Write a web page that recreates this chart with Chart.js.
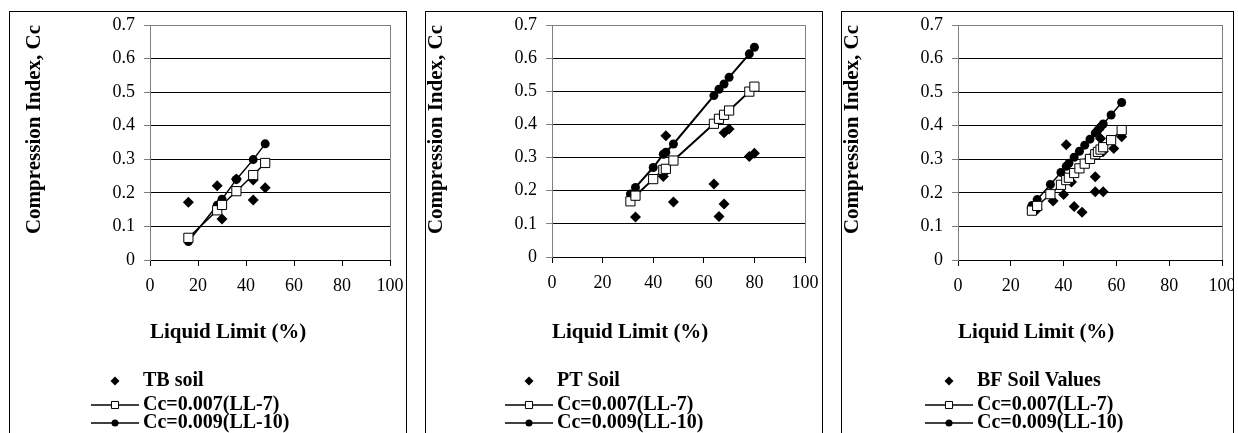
<!DOCTYPE html>
<html>
<head>
<meta charset="utf-8">
<script src="https://cdn.jsdelivr.net/npm/chart.js@4.4.1/dist/chart.umd.min.js"></script>
<style>
    html, body { margin: 0; padding: 0; background: #fff; }
    body { width: 1238px; height: 433px; position: relative; overflow: hidden; }
    .panel { position: absolute; top: 11px; height: 440px; border: 1px solid #000; background: #fff; }
    .panel canvas { display: block; }
</style>
</head>
<body>
<div class="panel" style="left:9px;width:396px"><canvas id="chartTB" width="396" height="421"></canvas></div>
<div class="panel" style="left:425px;width:396px"><canvas id="chartPT" width="396" height="421"></canvas></div>
<div class="panel" style="left:841px;width:391px"><canvas id="chartBF" width="391" height="421"></canvas></div>
<script>
// liquid limit (%) and compression index values
var xTicks = [0, 20, 40, 60, 80, 100];
var yTicks = [0, 0.1, 0.2, 0.3, 0.4, 0.5, 0.6, 0.7];

// TB soil
var tbSoilLL = [16, 28, 30, 36, 43, 43, 48];
var tbSoilCc = [0.172, 0.221, 0.122, 0.241, 0.238, 0.179, 0.215];
var tbLineLL = [16, 28, 30, 36, 43, 48];
var tbCc7 = [0.066, 0.148, 0.164, 0.205, 0.253, 0.289];
var tbCc10 = [0.055, 0.163, 0.181, 0.240, 0.299, 0.346];

// PT soil
var ptSoilLL = [33, 44, 45, 48, 64, 66, 68, 68, 70, 78, 80];
var ptSoilCc = [0.121, 0.243, 0.366, 0.166, 0.220, 0.122, 0.160, 0.375, 0.386, 0.303, 0.313];
var ptLineLL = [31, 33, 40, 44, 45, 48, 64, 66, 68, 70, 78, 80];
var ptCc7 = [0.168, 0.185, 0.235, 0.263, 0.266, 0.291, 0.402, 0.417, 0.429, 0.442, 0.499, 0.514];
var ptCc10 = [0.190, 0.210, 0.270, 0.310, 0.316, 0.341, 0.487, 0.506, 0.522, 0.542, 0.613, 0.633];

// BF soil
var bfSoilLL = [28, 30, 36, 40, 41, 43, 44, 47, 49, 51, 52, 52, 54, 55, 55, 59, 62];
var bfSoilCc = [0.155, 0.151, 0.176, 0.195, 0.343, 0.232, 0.159, 0.142, 0.295, 0.31, 0.248, 0.203, 0.362, 0.203, 0.323, 0.332, 0.367];
var bfLineLL = [28, 30, 35, 39, 41, 42, 44, 46, 48, 50, 52, 53, 54, 55, 58, 62];
var bfCc7 = [0.147, 0.161, 0.196, 0.224, 0.238, 0.245, 0.259, 0.273, 0.287, 0.301, 0.315, 0.322, 0.329, 0.336, 0.357, 0.387];
var bfCc10 = [0.162, 0.180, 0.225, 0.261, 0.279, 0.288, 0.306, 0.324, 0.342, 0.360, 0.378, 0.387, 0.396, 0.405, 0.432, 0.469];

var FONT = "'Liberation Serif', 'Times New Roman', serif";

function toPoints(xs, ys) {
    return xs.map(function (x, i) { return { x: x, y: ys[i] }; });
}

// Excel style legend: marker with a short line through it, one row per series
var panelLegend = {
    id: 'panelLegend',
    afterDraw: function (chart, args, opts) {
        var ctx = chart.ctx;
        var textX = opts.textX;
        ctx.save();
        ctx.font = 'bold 20px ' + FONT;
        ctx.textBaseline = 'middle';
        chart.data.datasets.forEach(function (ds, i) {
            var y = opts.rows[i];
            if (ds.showLine) {
                ctx.strokeStyle = '#000';
                ctx.lineWidth = 1.5;
                ctx.beginPath();
                ctx.moveTo(textX - 52, y);
                ctx.lineTo(textX - 4, y);
                ctx.stroke();
            }
            ctx.fillStyle = ds.pointBackgroundColor;
            ctx.strokeStyle = '#000';
            ctx.lineWidth = 1;
            Chart.helpers.drawPoint(ctx, {
                pointStyle: ds.pointStyle,
                radius: opts.radius[i],
                borderWidth: ds.pointBorderWidth,
                rotation: 0
            }, textX - 28, y);
            ctx.fillStyle = '#000';
            ctx.fillText(ds.label, textX, y);
        });
        ctx.restore();
    }
};

function buildChart(canvasId, soilLabel, area, soilLL, soilCc, lineLL, cc7, cc10) {
    var canvas = document.getElementById(canvasId);
    var W = canvas.width, H = canvas.height;

    return new Chart(canvas, {
        type: 'scatter',
        data: {
            datasets: [{
                label: soilLabel,
                data: toPoints(soilLL, soilCc),
                pointStyle: 'rectRot',
                pointRadius: 5.5,
                pointBackgroundColor: '#000',
                pointBorderColor: '#000',
                pointBorderWidth: 0,
                showLine: false,
                order: 3
            }, {
                label: 'Cc=0.007(LL-7)',
                data: toPoints(lineLL, cc7),
                pointStyle: 'rect',
                pointRadius: 6.5,
                pointBackgroundColor: '#fff',
                pointBorderColor: '#000',
                pointBorderWidth: 1,
                showLine: true,
                borderColor: '#000',
                borderWidth: area.lineWidth,
                order: 1
            }, {
                label: 'Cc=0.009(LL-10)',
                data: toPoints(lineLL, cc10),
                pointStyle: 'circle',
                pointRadius: 4.5,
                pointBackgroundColor: '#000',
                pointBorderColor: '#000',
                pointBorderWidth: 0,
                showLine: true,
                borderColor: '#000',
                borderWidth: area.lineWidth,
                order: 2
            }]
        },
        options: {
            responsive: false,
            animation: false,
            events: [],
            layout: { padding: { left: 0, top: area.top, right: W - area.right, bottom: 0 } },
            plugins: {
                legend: { display: false },
                tooltip: { enabled: false },
                panelLegend: { textX: area.legendX, rows: [369, 393, 411], radius: [4.5, 5, 3.5] }
            },
            scales: {
                x: {
                    type: 'linear',
                    min: xTicks[0],
                    max: xTicks[xTicks.length - 1],
                    afterBuildTicks: function (scale) {
                        scale.ticks = xTicks.map(function (v) { return { value: v }; });
                    },
                    ticks: { color: '#000', padding: 9, maxRotation: 0, font: { family: FONT, size: 18 } },
                    grid: {
                        color: function (c) { return c.tick && c.tick.value === 100 ? '#808080' : 'rgba(0,0,0,0)'; },
                        tickColor: '#000',
                        tickLength: 6,
                        lineWidth: 1
                    },
                    border: { color: '#000', width: 1 },
                    title: {
                        display: true,
                        text: 'Liquid Limit (%)',
                        align: 'start',
                        color: '#000',
                        font: { family: FONT, size: 21, weight: 'bold' },
                        padding: { top: 0, bottom: 88 }
                    },
                    afterFit: function (scale) {
                        scale.height = H - area.bottom;
                        scale.paddingLeft = 0;
                        scale.paddingRight = 0;
                    }
                },
                y: {
                    type: 'linear',
                    min: yTicks[0],
                    max: yTicks[yTicks.length - 1],
                    afterBuildTicks: function (scale) {
                        scale.ticks = yTicks.map(function (v) { return { value: v }; });
                    },
                    ticks: { color: '#000', padding: 9, font: { family: FONT, size: 18 } },
                    grid: {
                        color: function (c) { return c.tick && c.tick.value === 0.7 ? '#808080' : '#000'; },
                        tickColor: '#808080',
                        tickLength: 6,
                        lineWidth: 1
                    },
                    border: { color: '#808080', width: 1 },
                    title: {
                        display: true,
                        text: 'Compression Index, Cc',
                        align: 'end',
                        color: '#000',
                        font: { family: FONT, size: 21, weight: 'bold', lineHeight: 1 },
                        padding: { top: area.titlePad, bottom: 0 }
                    },
                    afterFit: function (scale) {
                        scale.width = area.left;
                        scale.paddingTop = 0;
                        scale.paddingBottom = 0;
                    }
                }
            }
        },
        plugins: [panelLegend]
    });
}

buildChart('chartTB', 'TB soil',
    { left: 140, right: 380, top: 13, bottom: 248, titlePad: 14, legendX: 133, lineWidth: 1.5 },
    tbSoilLL, tbSoilCc, tbLineLL, tbCc7, tbCc10);
buildChart('chartPT', 'PT Soil',
    { left: 126, right: 379, top: 13, bottom: 245, titlePad: 0, legendX: 131, lineWidth: 2 },
    ptSoilLL, ptSoilCc, ptLineLL, ptCc7, ptCc10);
buildChart('chartBF', 'BF Soil Values',
    { left: 116, right: 380, top: 13, bottom: 248, titlePad: 0, legendX: 135, lineWidth: 1.5 },
    bfSoilLL, bfSoilCc, bfLineLL, bfCc7, bfCc10);
</script>
</body>
</html>
